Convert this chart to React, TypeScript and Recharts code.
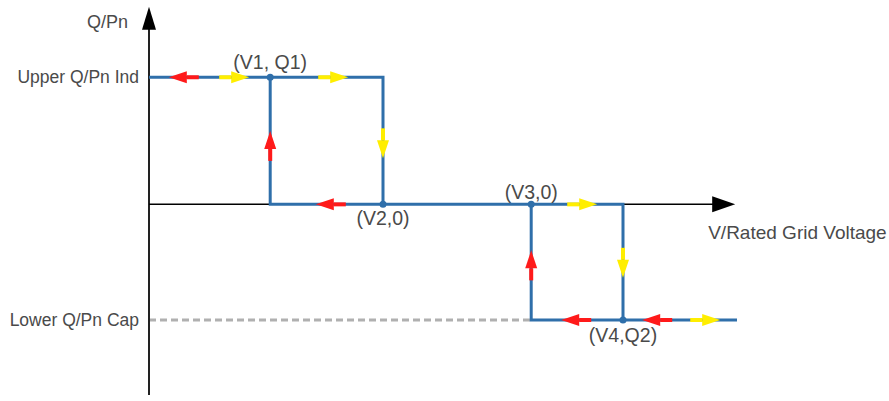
import React from "react";
import {
  LineChart,
  Line,
  XAxis,
  YAxis,
  ReferenceLine,
  ReferenceDot,
} from "recharts";

// voltage breakpoints (x, arbitrary units) and Q/Pn levels
const V1 = 20.2;
const V2 = 39;
const V3 = 63.7;
const V4 = 79;
const V_END = 98;
const Q1 = 1;
const Q2 = -0.91;

const yTickValues = [Q1, Q2];
const yTickLabels = ["Upper Q/Pn Ind", "Lower Q/Pn Cap"];

// blue characteristic, drawn as a few polylines
const upperLoop = [
  { v: 0, q: Q1 },
  { v: V2, q: Q1 },
  { v: V2, q: 0 },
  { v: V1, q: 0 },
  { v: V1, q: Q1 },
];
const lowerLoop = [
  { v: V2, q: 0 },
  { v: V4, q: 0 },
  { v: V4, q: Q2 },
  { v: V_END, q: Q2 },
];
const lowerLeft = [
  { v: V3, q: 0 },
  { v: V3, q: Q2 },
  { v: V4, q: Q2 },
];

// flow arrows: centre (v, q) and direction
const arrowV = [5.8, 14.2, 30.7, V1, V2, 30.3, 72.2, V3, V4, 71.2, 84.7, 92.7];
const arrowQ = [Q1, Q1, Q1, 0.46, 0.48, 0, 0, -0.48, -0.46, Q2, Q2, Q2];
const arrowDir = [
  "left", "right", "right", "up", "down", "left",
  "right", "up", "down", "left", "left", "right",
];

const points = [
  { v: V1, q: Q1, label: "(V1, Q1)", pos: "top", offset: 5 },
  { v: V2, q: 0, label: "(V2,0)", pos: "bottom", offset: 3 },
  { v: V3, q: 0, label: "(V3,0)", pos: "top", offset: 2 },
  { v: V4, q: Q2, label: "(V4,Q2)", pos: "bottom", offset: 5 },
];

const BLUE = "#2f6faa";
const TEXT = "#4a4a4a";

const dirVec: Record<string, [number, number]> = {
  left: [-1, 0],
  right: [1, 0],
  up: [0, -1],
  down: [0, 1],
};

function FlowArrow(props: any) {
  const { cx, cy, dir } = props;
  const [dx, dy] = dirVec[dir];
  const color = dir === "left" || dir === "up" ? "#ff1a1a" : "#ffee00";
  const px = -dy;
  const py = dx;
  const tip = [cx + 15 * dx, cy + 15 * dy];
  const bx = cx - 3 * dx;
  const by = cy - 3 * dy;
  const pts = `${tip[0]},${tip[1]} ${bx + 6 * px},${by + 6 * py} ${bx - 6 * px},${by - 6 * py}`;
  return (
    <g>
      <line
        x1={cx - 15 * dx}
        y1={cy - 15 * dy}
        x2={bx}
        y2={by}
        stroke={color}
        strokeWidth={4}
      />
      <polygon points={pts} fill={color} />
    </g>
  );
}

function AxisHead(props: any) {
  const { cx, cy, dir } = props;
  if (dir === "up") {
    return <polygon points={`${cx},${cy} ${cx + 7},${cy + 23} ${cx - 7},${cy + 23}`} fill="#000" />;
  }
  return <polygon points={`${cx},${cy} ${cx - 23},${cy - 8} ${cx - 23},${cy + 8}`} fill="#000" />;
}

export default function App() {
  return (
    <div
      style={{
        position: "absolute",
        left: 0,
        top: 0,
        width: 889,
        height: 401,
        background: "#fff",
        fontFamily: "'Liberation Sans', Arial, sans-serif",
      }}
    >
      <LineChart
        width={889}
        height={401}
        margin={{ top: 1, right: 140, bottom: 6, left: 0 }}
      >
        <XAxis type="number" dataKey="v" domain={[0, 100]} hide />
        <YAxis
          type="number"
          dataKey="q"
          domain={[-1.5, 1.6]}
          width={149}
          ticks={yTickValues}
          tickFormatter={(val: number) => yTickLabels[yTickValues.indexOf(val)]}
          axisLine={false}
          tickLine={false}
          tickSize={0}
          tickMargin={10}
          tick={{ fill: TEXT, fontSize: 17.5 }}
        />

        <ReferenceLine
          segment={[{ x: 0, y: Q2 }, { x: V3, y: Q2 }]}
          stroke="#b0b0b0"
          strokeWidth={3}
          strokeDasharray="7 4"
        />
        <ReferenceLine
          segment={[{ x: 0, y: -1.5 }, { x: 0, y: 1.4 }]}
          stroke="#222"
          strokeWidth={2}
        />
        <ReferenceLine segment={[{ x: 0, y: 0 }, { x: V1, y: 0 }]} stroke="#000" strokeWidth={1.5} />
        <ReferenceLine segment={[{ x: V4, y: 0 }, { x: 94, y: 0 }]} stroke="#000" strokeWidth={1.5} />

        {[upperLoop, lowerLoop, lowerLeft].map((seg, i) => (
          <Line
            key={i}
            data={seg}
            dataKey="q"
            type="linear"
            stroke={BLUE}
            strokeWidth={3}
            dot={false}
            activeDot={false}
            isAnimationActive={false}
          />
        ))}

        <ReferenceDot x={0} y={1.555} r={0} shape={(p: any) => <AxisHead {...p} dir="up" />} />
        <ReferenceDot x={97.7} y={0} r={0} shape={(p: any) => <AxisHead {...p} dir="right" />} />

        {arrowV.map((v, i) => (
          <ReferenceDot
            key={"a" + i}
            x={v}
            y={arrowQ[i]}
            r={0}
            shape={(p: any) => <FlowArrow {...p} dir={arrowDir[i]} />}
          />
        ))}

        {points.map((pt) => (
          <ReferenceDot
            key={pt.label}
            x={pt.v}
            y={pt.q}
            r={3.5}
            fill={BLUE}
            stroke="none"
            label={{
              value: pt.label,
              position: pt.pos as any,
              offset: pt.offset,
              fill: TEXT,
              fontSize: 19.5,
            }}
          />
        ))}

        <ReferenceDot
          x={0}
          y={1.44}
          r={0}
          fill="none"
          stroke="none"
          label={{ value: "Q/Pn", position: "left", offset: 21, fill: TEXT, fontSize: 18 }}
        />
        <ReferenceDot
          x={93.2}
          y={-0.217}
          r={0}
          fill="none"
          stroke="none"
          label={{ value: "V/Rated Grid Voltage", position: "right", offset: 0, fill: TEXT, fontSize: 19 }}
        />
      </LineChart>
    </div>
  );
}
